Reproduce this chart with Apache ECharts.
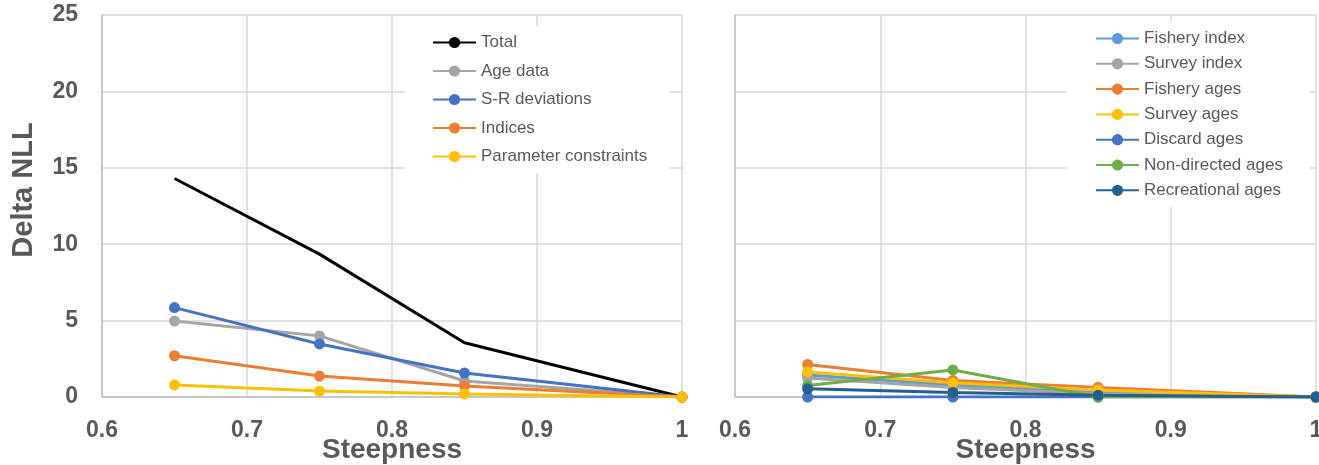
<!DOCTYPE html>
<html>
<head>
<meta charset="utf-8">
<style>
  html, body { margin: 0; padding: 0; background: #ffffff; }
  #chart { width: 1319px; height: 465px; }
</style>
<script src="https://cdn.jsdelivr.net/npm/echarts@6/dist/echarts.min.js"></script>
</head>
<body>
<div id="chart"></div>
<script>
// ---- data ----
const steepness = [0.65, 0.75, 0.85, 1.0];
const xTickValues = [0.6, 0.7, 0.8, 0.9, 1.0];
const xTickLabels = ['0.6', '0.7', '0.8', '0.9', '1'];
const yTickLabels = ['0', '5', '10', '15', '20', '25'];

// left panel
const leftNames = ['Total', 'Age data', 'S-R deviations', 'Indices', 'Parameter constraints'];
const total = [14.3, 9.35, 3.55, 0];
const ageData = [4.97, 4.0, 1.05, 0];
const srDeviations = [5.85, 3.47, 1.57, 0];
const indices = [2.7, 1.37, 0.72, 0];
const paramConstraints = [0.79, 0.39, 0.2, 0];

// right panel
const rightNames = ['Fishery index', 'Survey index', 'Fishery ages', 'Survey ages', 'Discard ages', 'Non-directed ages', 'Recreational ages'];
const fisheryIndex = [1.44, 0.78, 0.3, 0];
const surveyIndex = [1.25, 0.62, 0.22, 0];
const fisheryAges = [2.13, 1.08, 0.63, 0];
const surveyAges = [1.64, 0.94, 0.45, 0];
const discardAges = [0.0, 0.0, 0.0, 0];
const nonDirectedAges = [0.75, 1.77, 0.0, 0];
const recreationalAges = [0.54, 0.3, 0.12, 0];

const leftColors = ['#000000', '#A5A5A5', '#4472C4', '#ED7D31', '#FFC000'];
const rightColors = ['#5B9BD5', '#A5A5A5', '#ED7D31', '#FFC000', '#4472C4', '#70AD47', '#255E91'];

// ---- build ----
const pair = vals => steepness.map((x, i) => [x, vals[i]]);
const textColor = '#595959';
const font = 'Liberation Sans, Arial, sans-serif';

function xAxis(gridIndex) {
  return {
    type: 'value', gridIndex, min: 0.6, max: 1.0, interval: 0.1,
    name: 'Steepness', nameLocation: 'middle', nameGap: 39, nameMoveOverlap: false,
    nameTextStyle: { color: textColor, fontSize: 28, fontWeight: 'bold', fontFamily: font },
    axisLine: { show: true, lineStyle: { color: '#BFBFBF', width: 1.5 } },
    axisTick: { show: false },
    axisLabel: {
      margin: 22, color: textColor, fontSize: 23, fontWeight: 'bold', fontFamily: font,
      formatter: v => {
        const idx = xTickValues.findIndex(t => Math.abs(t - v) < 1e-6);
        return idx >= 0 ? xTickLabels[idx] : '';
      }
    },
    splitLine: { show: true, lineStyle: { color: '#D9D9D9', width: 1.5 } }
  };
}
function yAxis(gridIndex, showLabels) {
  return {
    type: 'value', gridIndex, min: 0, max: 25, interval: 5,
    name: showLabels ? 'Delta NLL' : '', nameLocation: 'middle', nameGap: 64, nameMoveOverlap: false,
    nameTextStyle: { color: textColor, fontSize: 29, fontWeight: 'bold', fontFamily: font, padding: [0, 0, 0, 32] },
    axisLine: { show: true, lineStyle: { color: '#BFBFBF', width: 1.5 } },
    axisTick: { show: false },
    axisLabel: {
      show: showLabels, margin: 24, color: textColor, fontSize: 23, fontWeight: 'bold', fontFamily: font,
      formatter: v => yTickLabels[Math.round(v / 5)]
    },
    splitLine: { show: true, lineStyle: { color: '#D9D9D9', width: 1.5 } }
  };
}
function lineSeries(name, vals, color, idx, withSymbol) {
  return {
    name, type: 'line', xAxisIndex: idx, yAxisIndex: idx,
    data: pair(vals),
    symbol: withSymbol ? 'circle' : 'none', symbolSize: 11, showSymbol: withSymbol,
    lineStyle: { color, width: 3 },
    itemStyle: { color },
    z: 2
  };
}

const leftVals = [total, ageData, srDeviations, indices, paramConstraints];
const rightVals = [fisheryIndex, surveyIndex, fisheryAges, surveyAges, discardAges, nonDirectedAges, recreationalAges];

const series = [];
leftNames.forEach((n, i) => series.push(lineSeries(n, leftVals[i], leftColors[i], 0, i !== 0)));
rightNames.forEach((n, i) => series.push(lineSeries(n, rightVals[i], rightColors[i], 1, true)));

const legendCommon = {
  orient: 'vertical', backgroundColor: '#ffffff',
  itemWidth: 43, itemHeight: 14,
  textStyle: { color: textColor, fontSize: 17, fontFamily: font },
  selectedMode: false, z: 5
};

const option = {
  animation: false,
  backgroundColor: '#ffffff',
  grid: [
    { left: 102, right: 637, top: 15, bottom: 68, outerBoundsMode: 'none', containLabel: false },
    { left: 735, right: 3, top: 15, bottom: 68, outerBoundsMode: 'none', containLabel: false }
  ],
  xAxis: [xAxis(0), xAxis(1)],
  yAxis: [yAxis(0, true), yAxis(1, false)],
  legend: [
    Object.assign({}, legendCommon, {
      data: leftNames, left: 405, top: 26, itemGap: 11.5, padding: [8, 22, 8, 27]
    }),
    Object.assign({}, legendCommon, {
      data: rightNames, left: 1067, top: 22, itemGap: 8.3, padding: [8, 27, 8, 28]
    })
  ],
  series
};

const chart = echarts.init(document.getElementById('chart'), null, { renderer: 'canvas' });
chart.setOption(option);
</script>
</body>
</html>
